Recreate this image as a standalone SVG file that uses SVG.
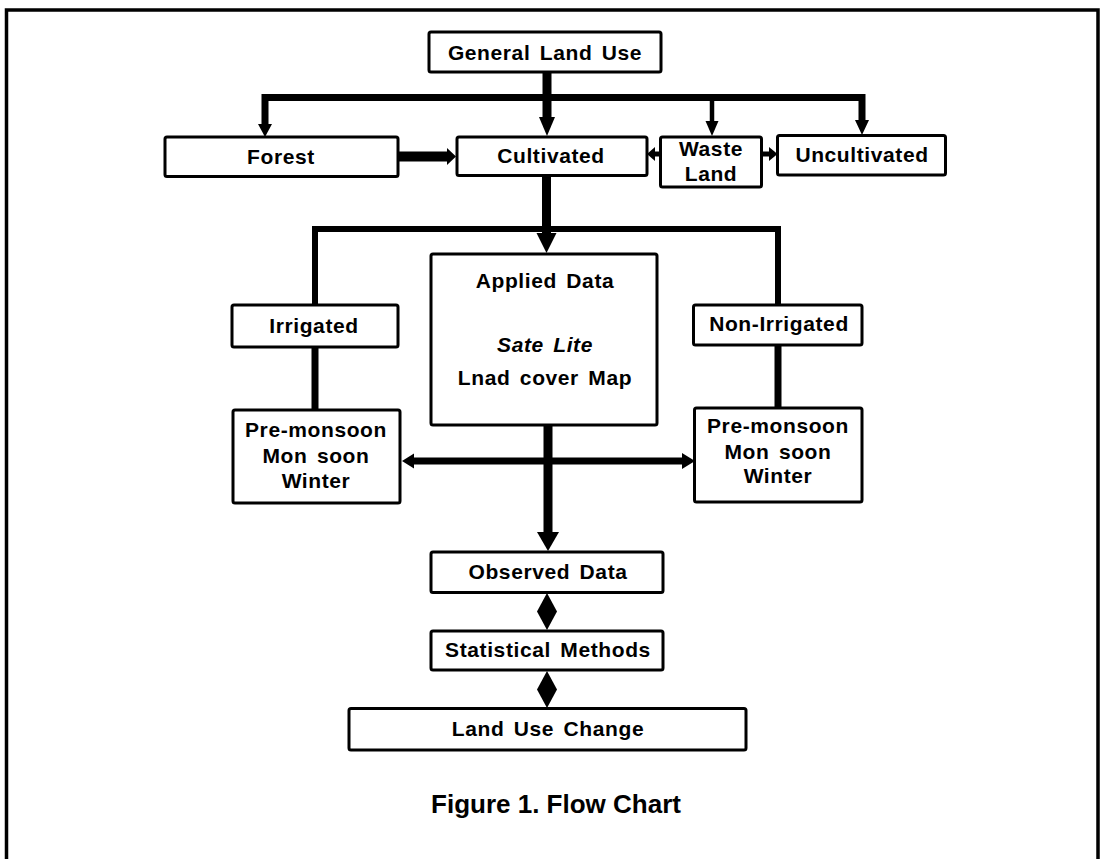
<svg xmlns="http://www.w3.org/2000/svg" width="1101" height="859" viewBox="0 0 1101 859">
<style>
.box{fill:#fff;stroke:#000;stroke-width:3}
.t{font-family:"Liberation Sans",Arial,Helvetica,sans-serif;font-weight:bold;font-size:21px;fill:#000;text-anchor:middle;letter-spacing:0.6px;word-spacing:3px}
.it{font-style:italic}
.ln{fill:none;stroke:#000;stroke-linecap:butt;stroke-linejoin:miter}
.head{fill:#000}
</style>
<rect x="0" y="0" width="1101" height="859" fill="#fff"/>
<path d="M6.5 859 V10 H1098 V859" fill="none" stroke="#000" stroke-width="3.5"/>

<g id="connectors">
  <!-- General Land Use to Cultivated + bus -->
  <path class="ln" d="M547 72 V118" stroke-width="9"/>
  <polygon class="head" points="539,117 555,117 547,136"/>
  <path class="ln" d="M265 125 V97.5 H862 V121" stroke-width="7"/>
  <polygon class="head" points="258,124 272,124 265,137"/>
  <polygon class="head" points="855,120 869,120 862,135"/>
  <path class="ln" d="M712 97 V122" stroke-width="4.5"/>
  <polygon class="head" points="705.5,121 718.5,121 712,136"/>
  <!-- Forest to Cultivated -->
  <path class="ln" d="M398 156.5 H448" stroke-width="10"/>
  <polygon class="head" points="447,148 456,156.5 447,165"/>
  <!-- Waste Land to Cultivated / Uncultivated -->
  <path class="ln" d="M661 154 H654" stroke-width="5"/>
  <polygon class="head" points="655,147 647,154 655,161"/>
  <path class="ln" d="M761 154 H770" stroke-width="5"/>
  <polygon class="head" points="769,147 777.5,154 769,161"/>
  <!-- Cultivated to Applied Data + bus -->
  <path class="ln" d="M546.5 175 V234" stroke-width="9"/>
  <polygon class="head" points="536.5,233 556.5,233 546.5,253"/>
  <path class="ln" d="M315 305 V229 H778 V305" stroke-width="6"/>
  <!-- Irrigated to seasons -->
  <path class="ln" d="M315 347 V410" stroke-width="7"/>
  <path class="ln" d="M778 345 V408" stroke-width="7"/>
  <!-- Applied Data to Observed Data -->
  <path class="ln" d="M548 425 V533" stroke-width="9"/>
  <polygon class="head" points="537,532 559,532 548,551"/>
  <!-- double arrow -->
  <path class="ln" d="M412 461 H684" stroke-width="7"/>
  <polygon class="head" points="414,453.5 402,461 414,468.5"/>
  <polygon class="head" points="682,453 695,461 682,469"/>
  <!-- diamonds -->
  <polygon class="head" points="547,593 557,611.5 547,630 537,611.5"/>
  <polygon class="head" points="547,671 557,689.5 547,708 537,689.5"/>
</g>

<g id="general-land-use">
  <rect class="box" x="429" y="32" width="232" height="40" rx="2"/>
  <text class="t" x="545" y="59.5">General Land Use</text>
</g>
<g id="forest">
  <rect class="box" x="165" y="137" width="233" height="39.5" rx="2"/>
  <text class="t" x="281" y="163.5">Forest</text>
</g>
<g id="cultivated">
  <rect class="box" x="457" y="137" width="190" height="38.5" rx="2"/>
  <text class="t" x="551" y="163">Cultivated</text>
</g>
<g id="waste-land">
  <rect class="box" x="660.5" y="137" width="101" height="50" rx="2"/>
  <text class="t" x="711" y="155.5">Waste</text>
  <text class="t" x="711" y="180.5">Land</text>
</g>
<g id="uncultivated">
  <rect class="box" x="777.5" y="135.5" width="168" height="39.5" rx="2"/>
  <text class="t" x="862" y="162">Uncultivated</text>
</g>
<g id="applied-data">
  <rect class="box" x="431" y="254" width="226" height="171" rx="2"/>
  <text class="t" x="545" y="288">Applied Data</text>
  <text class="t it" x="545" y="352">Sate Lite</text>
  <text class="t" x="545" y="385">Lnad cover Map</text>
</g>
<g id="irrigated">
  <rect class="box" x="232" y="305" width="166" height="42" rx="2"/>
  <text class="t" x="314" y="333">Irrigated</text>
</g>
<g id="non-irrigated">
  <rect class="box" x="693.5" y="305" width="168.5" height="40" rx="2"/>
  <text class="t" x="779" y="331">Non-Irrigated</text>
</g>
<g id="seasons-irrigated">
  <rect class="box" x="233" y="410" width="167" height="93" rx="2"/>
  <text class="t" x="316" y="437">Pre-monsoon</text>
  <text class="t" x="316" y="463">Mon soon</text>
  <text class="t" x="316" y="488">Winter</text>
</g>
<g id="seasons-non-irrigated">
  <rect class="box" x="694.5" y="408" width="167.5" height="94" rx="2"/>
  <text class="t" x="778" y="433">Pre-monsoon</text>
  <text class="t" x="778" y="459">Mon soon</text>
  <text class="t" x="778" y="483">Winter</text>
</g>
<g id="observed-data">
  <rect class="box" x="431" y="552" width="232" height="40.5" rx="2"/>
  <text class="t" x="548" y="578.5">Observed Data</text>
</g>
<g id="statistical-methods">
  <rect class="box" x="431" y="631" width="232" height="39" rx="2"/>
  <text class="t" x="548" y="657">Statistical Methods</text>
</g>
<g id="land-use-change">
  <rect class="box" x="349" y="708.5" width="397" height="41.5" rx="2"/>
  <text class="t" x="548" y="735.5">Land Use Change</text>
</g>
<g id="caption">
  <text class="t" x="556" y="813" style="font-size:26px;letter-spacing:0;word-spacing:0">Figure 1. Flow Chart</text>
</g>
</svg>
